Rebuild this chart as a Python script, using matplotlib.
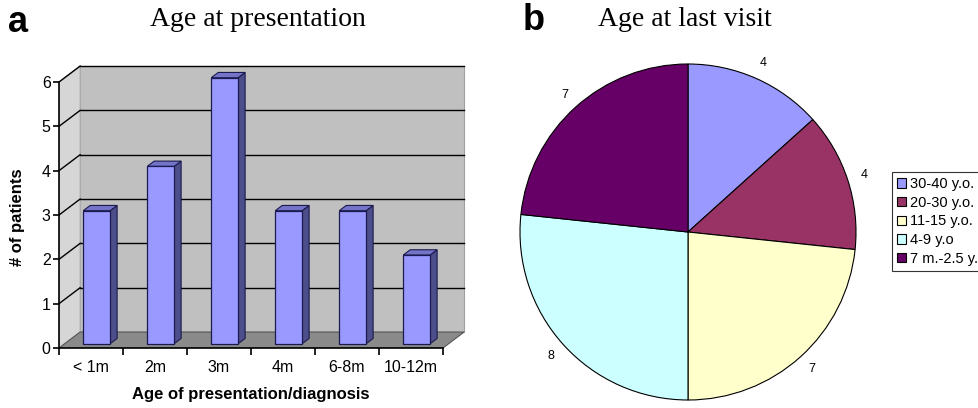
import numpy as np
import matplotlib.pyplot as plt
from matplotlib.patches import Polygon

# =====================
# 数据
# =====================

age_groups = ['< 1m', '2m', '3m', '4m', '6-8m', '10-12m']
patients = [3, 4, 6, 3, 3, 2]

visit_groups = ['30-40 y.o.', '20-30 y.o.', '11-15 y.o.', '4-9 y.o', '7 m.-2.5 y.']
visit_counts = [4, 4, 7, 8, 7]
visit_colors = ['#9999ff', '#993366', '#ffffcc', '#ccffff', '#660066']

# =====================
# 全局设置
# =====================

plt.rcParams['font.family'] = ['Liberation Sans', 'DejaVu Sans']

fig = plt.figure(figsize=(9.79, 4.08), dpi=100)

# =====================
# a: 伪3D柱状图
# =====================

# 深度方向偏移（数据单位）
dx, dy = 0.33, 0.36
f0, f1 = 0.27, 0.60
bar_w = 0.42
ymax = 6

ax = fig.add_axes([59 / 979, 60 / 408, 6.5 * 64 / 979, 6.6 * 44.33 / 408])
ax.set_xlim(0, 6.5)
ax.set_ylim(0, 6.6)

n = len(age_groups)

# 背墙
ax.add_patch(Polygon([(dx, dy), (n + dx, dy), (n + dx, ymax + dy), (dx, ymax + dy)],
                     closed=True, facecolor='#c0c0c0', edgecolor='#a0a0a0', lw=0.8, zorder=1))
# 左侧墙
ax.add_patch(Polygon([(0, 0), (dx, dy), (dx, ymax + dy), (0, ymax)],
                     closed=True, facecolor='#d6d6d6', edgecolor='#b0b0b0', lw=0.8, zorder=1))
# 地板
ax.add_patch(Polygon([(0, 0), (n, 0), (n + dx, dy), (dx, dy)],
                     closed=True, facecolor='#8a8a8a', edgecolor='#555555', lw=0.8, zorder=1))

# 网格线
for k in range(1, ymax + 1):
    ax.plot([dx, n + dx], [k + dy, k + dy], color='black', lw=1.0, zorder=2)
    ax.plot([0, dx], [k, k + dy], color='black', lw=1.0, zorder=2)

# 柱子
for i, v in enumerate(patients):
    x0 = i + 0.5 - bar_w / 2 + f0 * dx
    x1 = x0 + bar_w
    y0 = f0 * dy
    y1 = v + f0 * dy
    ddx = (f1 - f0) * dx
    ddy = (f1 - f0) * dy
    # 侧面
    ax.add_patch(Polygon([(x1, y0), (x1 + ddx, y0 + ddy), (x1 + ddx, y1 + ddy), (x1, y1)],
                         closed=True, facecolor='#4d4d8a', edgecolor='#1a1a50', lw=0.8, zorder=3))
    # 顶面
    ax.add_patch(Polygon([(x0, y1), (x1, y1), (x1 + ddx, y1 + ddy), (x0 + ddx, y1 + ddy)],
                         closed=True, facecolor='#7373c8', edgecolor='#1a1a50', lw=0.8, zorder=3))
    # 正面
    ax.add_patch(Polygon([(x0, y0), (x1, y0), (x1, y1), (x0, y1)],
                         closed=True, facecolor='#9999ff', edgecolor='#1a1a50', lw=0.9, zorder=4))

# 坐标轴
for s in ['top', 'right']:
    ax.spines[s].set_visible(False)
ax.spines['left'].set_bounds(0, ymax)
ax.spines['bottom'].set_bounds(0, n)
ax.spines['left'].set_linewidth(1.2)
ax.spines['bottom'].set_linewidth(1.2)

ax.set_yticks(range(0, ymax + 1))
ax.tick_params(axis='y', length=4, width=1.2, labelsize=11.5, pad=2)
ax.set_xticks(range(0, n + 1))
ax.set_xticklabels([])
ax.set_xticks(np.arange(n) + 0.5, minor=True)
ax.set_xticklabels(age_groups, minor=True)
ax.tick_params(axis='x', which='major', length=5, width=1.2)
ax.tick_params(axis='x', which='minor', length=0, labelsize=11.5, pad=9)

ax.set_ylabel('# of patients', fontsize=12, fontweight='bold')
ax.yaxis.set_label_coords(-34 / 416, 0.448)
ax.set_xlabel('Age of presentation/diagnosis', fontsize=12, fontweight='bold')
ax.xaxis.set_label_coords(3.0 / 6.5, -0.135)

# =====================
# b: 饼图
# =====================

r_px = 168
ax2 = fig.add_axes([(688 - r_px) / 979, (408 - 232 - r_px) / 408, 2 * r_px / 979, 2 * r_px / 408])
wedges, texts = ax2.pie(
    visit_counts,
    labels=[str(v) for v in visit_counts],
    colors=visit_colors,
    startangle=90,
    counterclock=False,
    labeldistance=1.1,
    wedgeprops=dict(edgecolor='black', linewidth=0.8),
    textprops=dict(fontsize=9),
)
for t in texts:
    t.set_horizontalalignment('center')
    t.set_verticalalignment('center')
ax2.set_xlim(-1, 1)
ax2.set_ylim(-1, 1)

leg = fig.legend(
    wedges, visit_groups,
    loc='upper left',
    bbox_to_anchor=(892 / 979, 1 - 172 / 408),
    fontsize=10.5,
    frameon=True,
    fancybox=False,
    edgecolor='black',
    handlelength=0.6,
    handleheight=0.6,
    handletextpad=0.3,
    labelspacing=0.32,
    borderpad=0.35,
    borderaxespad=0,
)
leg.get_frame().set_linewidth(0.8)

# =====================
# 标题
# =====================

fig.text(258 / 979, 1 - 20 / 408, 'Age at presentation', fontsize=20,
         family='Liberation Serif', ha='center', va='center')
fig.text(685 / 979, 1 - 20 / 408, 'Age at last visit', fontsize=20,
         family='Liberation Serif', ha='center', va='center')
fig.text(8 / 979, 1 - 22 / 408, 'a', fontsize=26, fontweight='bold', ha='left', va='center')
fig.text(523 / 979, 1 - 20 / 408, 'b', fontsize=26, fontweight='bold', ha='left', va='center')

fig.savefig('out.png', dpi=100)
